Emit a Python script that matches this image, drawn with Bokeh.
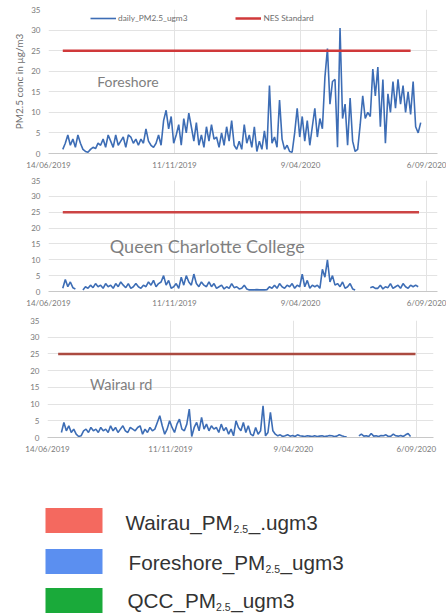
import pandas as pd
from bokeh.plotting import figure
from bokeh.layouts import column
from bokeh.models import (Range1d, FixedTicker, Label, Legend, LegendItem,
                          CustomJSTickFormatter, ColumnDataSource)
from bokeh.core.properties import value
from bokeh.embed import file_html
from bokeh.resources import INLINE

nan = float("nan")

# ---------------- data ----------------
series_start = "2019-07-01"
step = "3D"

foreshore = [
    1.0, 2.5, 4.5, 2.0, 3.5, 1.5, 4.5, 2.5, 1.0, 0.5,
    0.3, 1.0, 1.5, 1.2, 2.5, 2.0, 3.5, 1.5, 4.5, 3.0,
    1.5, 4.5, 2.0, 3.0, 4.0, 1.5, 4.5, 4.0, 2.5, 3.5,
    2.0, 3.5, 2.5, 6.0, 3.0, 2.0, 1.5, 2.5, 4.5, 2.0,
    8.0, 10.5, 6.0, 9.0, 2.5, 4.5, 7.0, 2.0, 8.5, 5.0,
    9.8, 6.5, 3.0, 7.5, 2.0, 4.5, 1.5, 6.5, 3.0, 7.0,
    3.5, 4.0, 1.5, 5.0, 2.0, 6.5, 3.0, 8.0, 2.0, 1.0,
    3.0, 1.0, 7.0, 2.5, 4.5, 1.5, 6.5, 0.5, 3.0, 1.0,
    5.5, 1.0, 16.5, 2.5, 4.0, 1.5, 13.0, 3.5, 1.0, 2.0,
    0.5, 0.3, 5.0, 11.0, 4.0, 9.0, 3.0, 8.0, 2.0, 6.5,
    11.0, 4.0, 8.5, 6.0, 18.5, 25.5, 12.0, 17.5, 18.0, 1.5,
    30.5, 8.5, 12.0, 2.0, 13.5, 3.0, 0.5, 1.0, 7.0, 14.0,
    8.5, 10.0, 9.0, 20.5, 14.0, 21.0, 6.5, 18.0, 2.5, 14.5,
    10.0, 17.5, 11.0, 18.0, 12.0, 16.5, 10.0, 15.0, 9.5, 17.5,
    6.5, 5.0, 7.5,
]

qcc = [
    1.0, 3.8, 1.5, 3.0, 1.2, 0.8, nan, nan, 0.5, 1.5,
    1.0, 2.0, 1.2, 2.5, 1.5, 2.0, 1.0, 2.5, 1.5, 2.0,
    1.0, 2.5, 1.5, 3.0, 2.0, 1.2, 2.5, 1.0, 1.5, 2.5,
    1.5, 1.0, 2.0, 1.5, 3.0, 2.0, 3.5, 1.5, 2.5, 3.0,
    5.0, 2.0, 3.5, 1.0, 1.5, 2.5, 1.0, 4.5, 2.0, 5.0,
    3.0, 2.0, 5.5, 2.5, 1.5, 3.0, 2.0, 1.5, 3.0, 1.5,
    2.5, 1.0, 1.5, 2.0, 0.8, 1.5, 1.0, 2.5, 1.2, 1.5,
    0.8, 1.0, 2.0, 0.8, 0.5, 0.5, 0.5, 0.6, 0.5, 0.5,
    0.5, 0.6, 1.5, 1.0, 2.0, 1.0, 2.5, 1.5, 1.0, 2.0,
    1.5, 2.5, 1.0, 2.0, 1.5, 5.5, 1.5, 3.5, 1.0, 2.0,
    1.5, 2.0, 1.0, 7.0, 4.5, 10.0, 3.0, 5.0, 2.0, 2.5,
    1.5, 3.0, 1.0, 1.5, 2.5, 0.8, 0.5, nan, nan, nan,
    nan, nan, 1.2, 1.5, 1.0, 1.0, 2.0, 0.8, 1.5, 1.2,
    2.5, 1.0, 1.5, 2.0, 1.0, 2.5, 1.5, 1.0, 2.0, 1.5,
    2.0, 1.5, nan,
]

wairau = [
    1.5, 4.5, 2.0, 3.5, 1.5, 2.5, 1.0, 0.3, 0.5, 2.0,
    2.5, 1.5, 3.0, 2.0, 2.5, 1.5, 3.0, 2.0, 2.5, 1.5,
    3.5, 2.0, 3.0, 1.5, 2.5, 3.5, 2.0, 1.5, 3.0, 2.5,
    2.0, 3.0, 3.5, 1.0, 2.5, 1.5, 3.0, 2.0, 2.5, 4.5,
    6.5, 3.5, 1.0, 2.5, 5.0, 3.0, 1.5, 4.0, 5.5, 2.5,
    2.0, 4.0, 8.5, 0.3, 3.0, 4.5, 2.0, 6.0, 2.5, 4.0,
    2.0, 3.5, 2.5, 3.0, 1.5, 4.0, 2.0, 3.0, 1.0, 2.5,
    0.5, 5.0, 3.0, 2.0, 4.5, 1.5, 3.5, 1.0, 0.5, 3.0,
    1.0, 2.0, 9.5, 0.5, 1.5, 7.5, 2.0, 1.0, 0.5, 0.8,
    0.3, 0.5, 0.8, 0.4, 0.6, 0.3, 0.8, 0.5, 0.4, 0.3,
    0.5, 0.4, 0.3, 0.5, 0.3, 0.4, 0.5, 0.3, 0.4, 0.6,
    0.5, 0.3, 0.4, 0.8, 0.5, 0.3, 0.2, nan, nan, nan,
    nan, 0.5, 1.0, 0.4, 0.5, 0.3, 1.2, 0.4, 0.5, 0.3,
    0.6, 0.5, 0.8, 0.3, 0.4, 1.0, 0.5, 0.4, 0.6, 0.3,
    0.8, 1.2, 0.3,
]

nes_value = 25
nes_dates_panels = [
    ["2019-07-01", "2020-08-18"],
    ["2019-07-01", "2020-08-28"],
    ["2019-06-27", "2020-09-05"],
]

panel_titles = ["Foreshore", "Queen Charlotte College", "Wairau rd"]
tick_dates = ["2019-06-14", "2019-11-11", "2020-04-09", "2020-09-06"]
tick_labels = ["14/06/2019", "11/11/2019", "9/04/2020", "6/09/2020"]
y_ticks = [0, 5, 10, 15, 20, 25, 30, 35]

legend_prefix = ["Wairau_PM", "Foreshore_PM", "QCC_PM"]
legend_sub = ["2.5", "2.5", "2.5"]
legend_suffix = ["_.ugm3", "_ugm3", "_ugm3"]
legend_colors = ["#f4695f", "#5b8ff0", "#1aaa3a"]

# ---------------- helpers ----------------
FONT = "Lato"
tick_ms = [pd.Timestamp(d).value // 10**6 for d in tick_dates]
fmt = CustomJSTickFormatter(
    args=dict(tvals=tick_ms, tlabels=tick_labels),
    code="const i = tvals.indexOf(tick); return i >= 0 ? tlabels[i] : '';")


def make_panel(vals, nes_dates, title, title_x, title_y, title_size,
               height, b_top, b_bottom, b_left, b_right, x_end,
               nes_color, show_legend=False, y_label=None):
    dates = pd.date_range(series_start, periods=len(vals), freq=step)
    src = ColumnDataSource(dict(date=dates, pm=vals))
    p = figure(width=446, height=height, x_axis_type="datetime",
               x_range=Range1d(pd.Timestamp("2019-06-14"), pd.Timestamp(x_end)),
               y_range=Range1d(0, 35),
               output_backend="svg", toolbar_location=None,
               min_border_top=b_top, min_border_bottom=b_bottom,
               min_border_left=b_left, min_border_right=b_right)
    p.frame_align = False
    p.outline_line_color = None
    p.background_fill_color = "white"
    p.border_fill_color = "white"

    p.xaxis.ticker = FixedTicker(ticks=tick_ms)
    p.xaxis.formatter = fmt
    p.yaxis.ticker = FixedTicker(ticks=y_ticks)
    for ax in (p.xaxis, p.yaxis):
        ax.major_tick_line_color = None
        ax.minor_tick_line_color = None
        ax.major_tick_out = 0
        ax.major_tick_in = 0
        ax.minor_tick_out = 0
        ax.minor_tick_in = 0
        ax.major_label_text_font = FONT
        ax.major_label_text_font_size = "8px"
        ax.major_label_text_color = "#7a7a7a"
    p.xaxis.axis_line_color = "#c8c8c8"
    p.yaxis.axis_line_color = None
    p.xaxis.major_label_standoff = 6
    p.yaxis.major_label_standoff = 8
    p.xgrid.grid_line_color = "#e3e3e3"
    p.ygrid.grid_line_color = "#e3e3e3"

    if y_label:
        p.yaxis.axis_label = y_label
        p.yaxis.axis_label_text_font = FONT
        p.yaxis.axis_label_text_font_style = "normal"
        p.yaxis.axis_label_text_font_size = "10px"
        p.yaxis.axis_label_text_color = "#6e6e6e"
        p.yaxis.axis_label_standoff = 3

    nes_src = ColumnDataSource(dict(date=pd.to_datetime(nes_dates),
                                    v=[nes_value] * len(nes_dates)))
    r_data = p.line("date", "pm", source=src, line_color="#3d6db5", line_width=1.6)
    r_nes = p.line("date", "v", source=nes_src, line_color=nes_color, line_width=2.5)

    p.add_layout(Label(x=pd.Timestamp(title_x), y=title_y, text=title,
                       text_font=FONT, text_font_size=title_size,
                       text_color="#7f7f7f", text_baseline="middle"))

    if show_legend:
        leg = Legend(items=[LegendItem(label="daily_PM2.5_ugm3", renderers=[r_data]),
                            LegendItem(label="NES Standard", renderers=[r_nes])],
                     orientation="horizontal", location=(42, 130),
                     padding=0, margin=0, spacing=48, label_standoff=2,
                     glyph_width=26, glyph_height=10, label_height=10,
                     border_line_color=None, background_fill_alpha=0,
                     label_text_font=FONT, label_text_font_size="8.3px",
                     label_text_color="#6e6e6e")
        p.add_layout(leg)
    return p


p1 = make_panel(foreshore, nes_dates_panels[0], panel_titles[0], "2019-08-11", 17.4, "14px",
                172, 9, 18, 48, 9, "2020-09-19", "#d0393a",
                show_legend=True, y_label="PM2.5 conc in µg/m3")
p2 = make_panel(qcc, nes_dates_panels[1], panel_titles[1], "2019-08-26", 14.5, "18px",
                139, 8, 20, 48, 9, "2020-09-19", "#cc4444")
p3 = make_panel(wairau, nes_dates_panels[2], panel_titles[2], "2019-08-05", 15.9, "14.5px",
                149, 9, 23, 47, 13, "2020-09-27", "#ab4a40")

# ---------------- bottom legend (rich text with subscript) ----------------
LH = 154
pl = figure(width=446, height=LH, x_range=Range1d(0, 446), y_range=Range1d(LH, 0),
            output_backend="svg", toolbar_location=None,
            x_axis_location=None, y_axis_location=None,
            min_border=0, min_border_left=0, min_border_right=0,
            min_border_top=0, min_border_bottom=0)
pl.frame_align = False
pl.grid.visible = False
pl.outline_line_color = None

# Arial / Liberation Sans advance widths (per 1000 em) for laying out the pieces
ARIAL_W = {"W": 944, "a": 556, "i": 222, "r": 333, "u": 556, "_": 556, "P": 667,
           "M": 833, "F": 611, "o": 556, "e": 556, "s": 500, "h": 556, "Q": 778,
           "C": 722, ".": 278, "g": 556, "m": 833, "2": 556, "3": 556, "5": 556}


def text_w(s, size):
    return sum(ARIAL_W.get(ch, 556) for ch in s) * size / 1000.0


MAIN_PX, SUB_PX = 20.7, 10.5
row_centers = [60, 101, 140]
text_centers = [62, 102, 140]
prefix_x = [125, 128, 127]
sub_x = [x + text_w(t, MAIN_PX) for x, t in zip(prefix_x, legend_prefix)]
suffix_x = [x + text_w(t, SUB_PX) + 0.5 for x, t in zip(sub_x, legend_sub)]

pl.quad(left=[45] * 3, right=[102] * 3,
        top=[c - 12.5 for c in row_centers], bottom=[c + 12.5 for c in row_centers],
        fill_color=legend_colors, line_color=None)
pl.text(x=prefix_x, y=text_centers, text=legend_prefix,
        text_font=value("Liberation Sans"), text_font_size=f"{MAIN_PX}px",
        text_color="#333333", text_baseline="middle")
pl.text(x=sub_x, y=[c + 6 for c in text_centers], text=legend_sub,
        text_font=value("Liberation Sans"), text_font_size=f"{SUB_PX}px",
        text_color="#333333", text_baseline="middle")
pl.text(x=suffix_x, y=text_centers, text=legend_suffix,
        text_font=value("Liberation Sans"), text_font_size=f"{MAIN_PX}px",
        text_color="#333333", text_baseline="middle")

layout = column(p1, p2, p3, pl, spacing=0)
open("out.html", "w").write(file_html(layout, INLINE))
